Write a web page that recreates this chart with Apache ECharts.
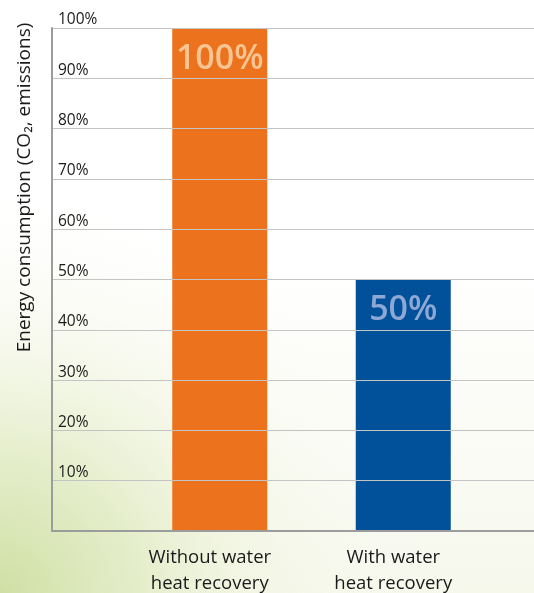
<!DOCTYPE html>
<html>
<head>
<meta charset="utf-8">
<script src="https://cdn.jsdelivr.net/npm/echarts@6/dist/echarts.min.js"></script>
<style>
html,body{margin:0;padding:0;background:#fff;}
#chart{width:534px;height:593px;}
</style>
</head>
<body>
<div id="chart"></div>
<script>
var categories = ['Without water\nheat recovery', 'With water\nheat recovery'];
var values = [100, 50];
var barColors = ['#ec721e', '#00519a'];
var labelColors = ['#f8c491', '#8ea8d6'];
var yAxisName = 'Energy consumption (CO\u2082, emissions)';

var FONT = '"Open Sans", "Noto Sans", sans-serif';
var chart = echarts.init(document.getElementById('chart'));

var option = {
  backgroundColor: {
    type: 'linear', x: 0, y: 0, x2: 0, y2: 1,
    colorStops: [
      {offset: 0, color: '#ffffff'},
      {offset: 0.45, color: '#ffffff'},
      {offset: 1, color: '#f6f8ec'}
    ]
  },
  graphic: [{
    type: 'rect', silent: true, z: -10, left: 0, top: 0,
    shape: {width: 534, height: 593},
    style: {
      fill: {
        type: 'radial', x: 0, y: 1, r: 0.8,
        colorStops: [
          {offset: 0, color: 'rgba(205,222,160,0.95)'},
          {offset: 0.3, color: 'rgba(220,232,186,0.75)'},
          {offset: 0.6, color: 'rgba(236,242,214,0.35)'},
          {offset: 1, color: 'rgba(255,255,255,0)'}
        ]
      }
    }
  }],
  textStyle: {fontFamily: FONT},
  grid: [
    {left: 52, right: 0, top: 28, bottom: 62, containLabel: false, outerBoundsMode: 'none'},
    {left: 128, right: 39, top: 28, bottom: 62, containLabel: false, outerBoundsMode: 'none'}
  ],
  xAxis: [
    {
      gridIndex: 0, type: 'value', min: 0, max: 1, zlevel: 1,
      axisLine: {show: true, onZero: false, lineStyle: {color: '#9c9c9c', width: 2}},
      axisTick: {show: false}, axisLabel: {show: false}, splitLine: {show: false}
    },
    {
      gridIndex: 1, type: 'category', data: categories,
      axisLine: {show: false}, axisTick: {show: false}, splitLine: {show: false},
      axisLabel: {
        margin: 14, fontSize: 18.5, color: '#1a1a1a', lineHeight: 26,
        fontFamily: FONT, padding: [0, 20, 0, 0]
      }
    }
  ],
  yAxis: [
    {
      gridIndex: 0, type: 'value', min: 0, max: 100, interval: 10, zlevel: 1,
      name: yAxisName, nameLocation: 'middle', nameGap: 18,
      nameTextStyle: {fontSize: 19, color: '#1a1a1a', fontFamily: FONT, padding: [0, 0, 0, 184]},
      axisLine: {show: true, lineStyle: {color: '#9c9c9c', width: 2}},
      axisTick: {show: false},
      splitLine: {show: true, lineStyle: {color: '#c4c4c4', width: 1}},
      axisLabel: {
        inside: true, margin: 6, showMinLabel: false, verticalAlign: 'bottom',
        fontSize: 15.5, color: '#1a1a1a', fontFamily: FONT,
        formatter: '{value}%'
      }
    },
    {
      gridIndex: 1, type: 'value', min: 0, max: 100, interval: 10, show: false,
      splitLine: {show: false}
    }
  ],
  series: [{
    type: 'bar', xAxisIndex: 1, yAxisIndex: 1, barWidth: 95,
    data: values.map(function (v, i) {
      return {
        value: v,
        itemStyle: {color: barColors[i]},
        label: {color: labelColors[i]}
      };
    }),
    label: {
      show: true, position: 'insideTop', distance: 14,
      fontSize: 34, fontWeight: 600, fontFamily: FONT,
      formatter: '{c}%'
    }
  }]
};
chart.setOption(option);
</script>
</body>
</html>
